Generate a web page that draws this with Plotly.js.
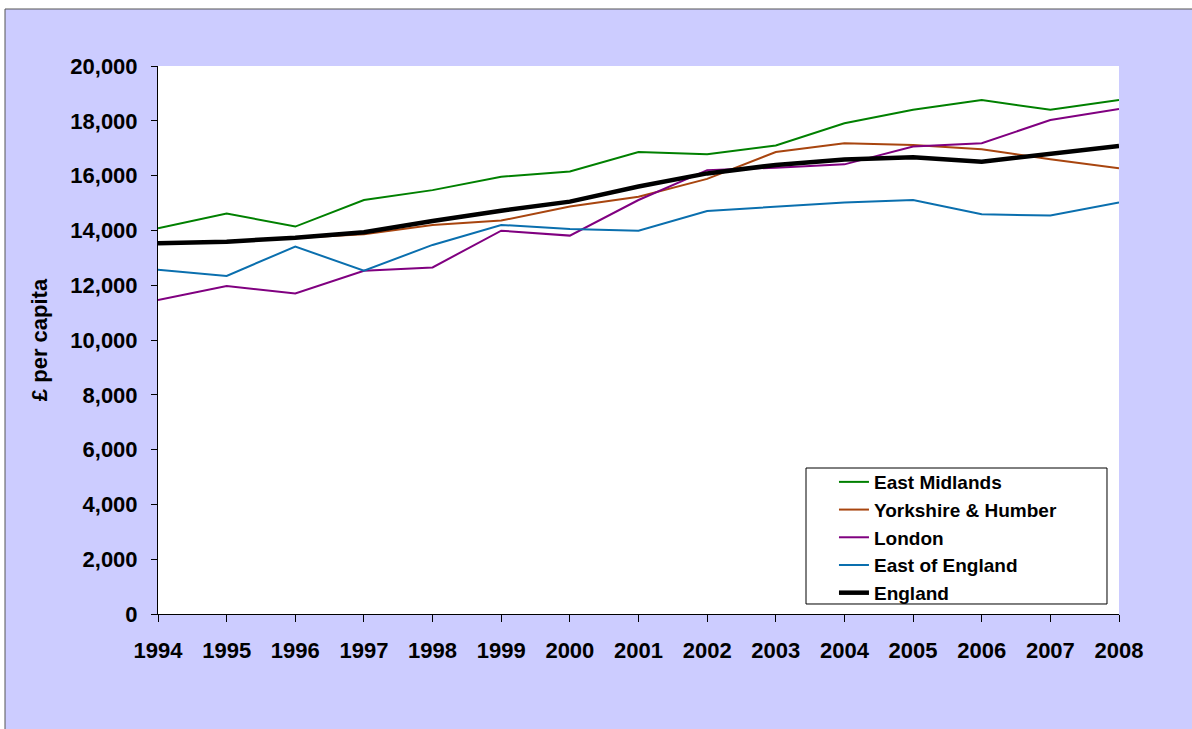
<!DOCTYPE html>
<html>
<head>
<meta charset="utf-8">
<script src="https://cdn.plot.ly/plotly-3.0.1.min.js"></script>
<style>html,body{margin:0;padding:0;background:#fff;}#chart{width:1192px;height:729px;}</style>
</head>
<body>
<div id="chart"></div>
<script>
const years = [1994,1995,1996,1997,1998,1999,2000,2001,2002,2003,2004,2005,2006,2007,2008];
const eastMidlands = [14080,14620,14140,15110,15470,15960,16150,16860,16780,17100,17910,18400,18760,18400,18760];
const yorkshire = [13520,13580,13720,13860,14200,14360,14870,15230,15880,16860,17180,17120,16960,16600,16270];
const london = [11460,11970,11700,12530,12650,13990,13810,15110,16200,16290,16410,17060,17180,18030,18430];
const eastOfEngland = [12560,12340,13410,12530,13470,14200,14050,13990,14710,14870,15020,15110,14590,14540,15020];
const england = [13530,13590,13730,13930,14340,14720,15050,15600,16080,16390,16590,16670,16510,16810,17080];
const seriesNames = ['East Midlands','Yorkshire & Humber','London','East of England','England'];
const yTicks = [0,2000,4000,6000,8000,10000,12000,14000,16000,18000,20000];

const colors = ['#008000','#A8450F','#800080','#0A6FAE','#000000'];
const widths = [2,2,2,2,4.5];
const data = [eastMidlands, yorkshire, london, eastOfEngland, england].map((ys,i)=>({
  x: years, y: ys, name: seriesNames[i], type:'scatter', mode:'lines',
  line:{color:colors[i], width:widths[i]}
}));

const FONT = 'Arial, "Liberation Sans", sans-serif';
const layout = {
  width:1192, height:729,
  margin:{l:158, r:73, t:66, b:115},
  paper_bgcolor:'#ffffff', plot_bgcolor:'#ffffff',
  font:{family:FONT, color:'#000', size:20},
  showlegend:true,
  legend:{x:0.7034, y:0.2755, xanchor:'left', yanchor:'top', bgcolor:'rgba(0,0,0,0)',
    borderwidth:0, font:{family:FONT, size:19, weight:'bold', color:'#000'},
    itemwidth:30, tracegroupgap:0},
  xaxis:{range:[1994,2008], tickmode:'array', tickvals:years, ticktext:years.map(String),
    showline:true, linecolor:'#000', linewidth:1, ticks:'outside', ticklen:7, tickcolor:'#000',
    ticklabelstandoff:10,
    showgrid:false, zeroline:false, tickfont:{family:FONT, size:22, weight:'bold'}},
  yaxis:{range:[0,20000], tickmode:'array', tickvals:yTicks, tickformat:',d',
    showline:true, linecolor:'#000', linewidth:1, ticks:'outside', ticklen:6, tickcolor:'#000',
    ticklabelstandoff:9,
    showgrid:false, zeroline:false, tickfont:{family:FONT, size:22, weight:'bold'},
    title:{text:'£ per capita', font:{family:FONT, size:22, weight:'bold'}, standoff:16}},
  shapes:[
    {type:'rect', xref:'paper', yref:'paper', x0:-0.1592, x1:1.2, y0:-0.4, y1:1.104,
     fillcolor:'#CCCCFF', line:{color:'#555555', width:1}, layer:'below'},
    {type:'rect', xref:'paper', yref:'paper', x0:0, x1:1, y0:0, y1:1,
     fillcolor:'#ffffff', line:{width:0}, layer:'below'},
    {type:'rect', xref:'paper', yref:'paper', x0:0.6743, x1:0.9875, y0:0.01825, y1:0.2664,
     fillcolor:'#ffffff', line:{color:'#000000', width:1}, layer:'above'}
  ]
};
Plotly.newPlot('chart', data, layout, {displayModeBar:false, staticPlot:true});
</script>
</body>
</html>
